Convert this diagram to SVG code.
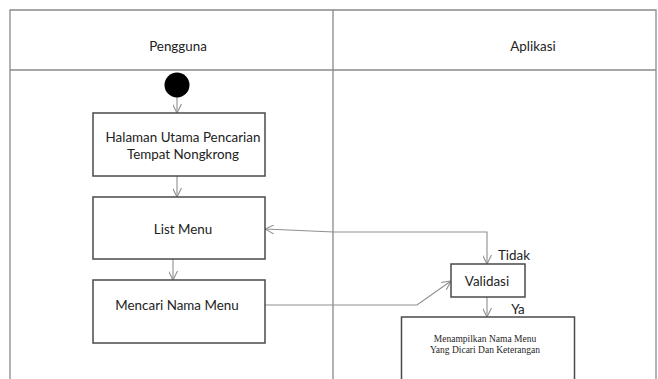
<svg xmlns="http://www.w3.org/2000/svg" width="658" height="379" viewBox="0 0 658 379">
<style>
.lane{fill:none;stroke:#8a8a8a;stroke-width:1.3}
.box{fill:#fff;stroke:#4a4a4a;stroke-width:1.5}
.t{font-family:Lato,"Liberation Sans",sans-serif;font-size:13.4px;fill:#222;text-anchor:middle}
.s{font-family:"Liberation Serif",serif;font-size:9.5px;fill:#262626;text-anchor:middle}
.c{fill:none;stroke:#8f8f8f;stroke-width:1.1}
</style>
<defs>
<marker id="a" viewBox="0 0 10 10" refX="10" refY="5" markerWidth="9" markerHeight="9" orient="auto" markerUnits="userSpaceOnUse">
<path d="M0,0 L10,5 L0,10" fill="none" stroke="#8f8f8f" stroke-width="1.2"/>
</marker>
</defs>
<rect width="658" height="379" fill="#fff"/>
<g id="lanes">
<path class="lane" d="M10,381 V10 H656 V381 M333,10 V381 M10,70 H656"/>
<text class="t" x="178" y="51">Pengguna</text>
<text class="t" x="533" y="51">Aplikasi</text>
</g>
<g id="connectors">
<path class="c" d="M177,97 V113" marker-end="url(#a)"/>
<path class="c" d="M177,176 V197" marker-end="url(#a)"/>
<path class="c" d="M173,259 V280" marker-end="url(#a)"/>
<path class="c" d="M334,232 H487 V264" marker-end="url(#a)"/>
<path class="c" d="M334,232 L265,229" marker-end="url(#a)"/>
<path class="c" d="M265,305 H417 L451,281" marker-end="url(#a)"/>
<path class="c" d="M487,297 V317" marker-end="url(#a)"/>
<text class="t" x="514" y="260">Tidak</text>
<text class="t" x="518" y="314">Ya</text>
</g>
<g id="start"><circle cx="177" cy="85" r="12.5" fill="#000"/></g>
<g id="n1">
<rect class="box" x="93" y="113" width="172" height="63"/>
<text class="t" x="183" y="142">Halaman Utama Pencarian</text>
<text class="t" x="183" y="159">Tempat Nongkrong</text>
</g>
<g id="n2">
<rect class="box" x="93" y="197" width="172" height="62"/>
<text class="t" x="183" y="234">List Menu</text>
</g>
<g id="n3">
<rect class="box" x="93" y="280" width="172" height="63"/>
<text class="t" x="177" y="310">Mencari Nama Menu</text>
</g>
<g id="n4">
<rect class="box" x="451" y="264" width="74" height="33"/>
<text class="t" x="487" y="286">Validasi</text>
</g>
<g id="n5">
<rect class="box" x="401.5" y="317" width="173" height="66"/>
<text class="s" x="485" y="342">Menampilkan Nama Menu</text>
<text class="s" x="485" y="353">Yang Dicari Dan Keterangan</text>
</g>
</svg>
